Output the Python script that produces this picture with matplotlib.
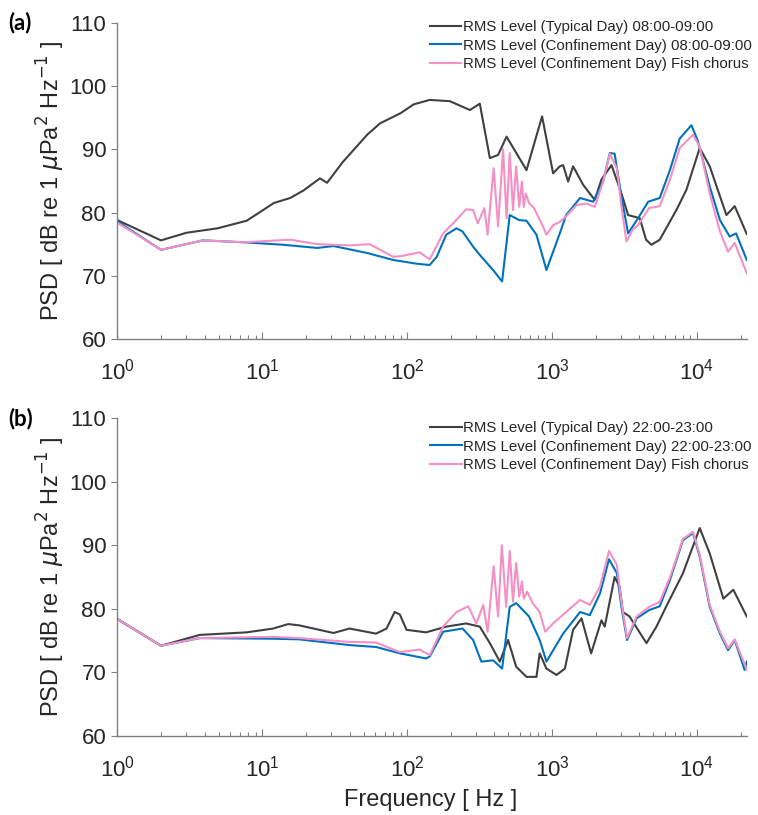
import numpy as np
import matplotlib
matplotlib.use('Agg')
import matplotlib.pyplot as plt
from matplotlib.ticker import LogLocator, NullFormatter

plt.rcParams['font.family'] = ['Liberation Sans', 'DejaVu Sans']
plt.rcParams['mathtext.fontset'] = 'dejavusans'

# ---- panel (a) 08:00-09:00 ----
fa_typ = [1, 2, 3, 4.9, 7.8, 9.7, 12, 15.6, 19.3, 25, 28, 36, 53, 65, 90, 111, 143, 197,
          271, 317, 372, 424, 485, 666, 853, 1016, 1130, 1191, 1290, 1396, 1636, 1820, 1969,
          2190, 2570, 3010, 3345, 4027, 4450, 4849, 5533, 7210, 8450, 10440, 12240, 15950,
          18200, 22050]
psda_typ = [78.8, 75.6, 76.8, 77.5, 78.7, 80.1, 81.5, 82.3, 83.5, 85.4, 84.7, 88.0, 92.3,
            94.1, 95.7, 97.1, 97.8, 97.6, 96.2, 97.2, 88.6, 89.1, 92.0, 86.7, 95.2, 86.2,
            87.3, 87.5, 84.9, 87.3, 84.4, 83.0, 82.0, 85.2, 87.5, 83.0, 79.6, 79.1, 75.7,
            74.9, 75.7, 80.4, 83.6, 90.2, 87.3, 79.6, 81.0, 76.6]

fa_conf = [1, 2, 3.9, 7.4, 14, 24, 31, 53, 80, 117, 143, 160, 186, 219, 241, 285, 317, 392,
           452, 510, 593, 666, 780, 914, 1130, 1250, 1560, 1920, 2250, 2500, 2700, 3010,
           3345, 3920, 4600, 5530, 6500, 7600, 9150, 10100, 12240, 14400, 16800, 18600, 22050]
psda_conf = [78.6, 74.1, 75.6, 75.3, 74.9, 74.4, 74.7, 73.6, 72.5, 71.9, 71.7, 73.0, 76.5,
             77.5, 77.0, 74.6, 73.3, 70.9, 69.1, 79.6, 78.8, 78.7, 76.5, 70.9, 76.7, 79.6,
             82.3, 81.7, 84.9, 89.4, 89.3, 82.5, 76.7, 79.1, 81.7, 82.3, 86.7, 91.7, 93.8,
             91.4, 84.1, 78.8, 76.2, 76.7, 72.5]

fa_fish = [1, 2, 3.9, 7.4, 15.6, 24, 40, 55, 80, 90, 122, 143, 177, 208, 255, 285, 307, 341,
           359, 395, 424, 459, 485, 510, 537, 565, 593, 619, 637, 659, 693, 750, 866, 914,
           1016, 1130, 1250, 1477, 1735, 1969, 2250, 2500, 2800, 3010, 3260, 3600, 3920,
           4670, 5530, 6500, 7600, 9380, 10440, 12240, 14400, 16370, 18200, 22050]
psda_fish = [78.4, 74.1, 75.6, 75.3, 75.7, 75.0, 74.8, 75.0, 73.0, 73.1, 73.7, 72.6, 76.7,
             78.3, 80.5, 80.4, 78.3, 80.7, 76.5, 87.0, 77.8, 90.0, 79.1, 89.4, 80.4, 87.3,
             80.9, 84.9, 80.9, 83.0, 81.5, 80.7, 77.8, 76.5, 78.0, 78.5, 79.4, 81.2, 81.4,
             80.9, 84.9, 89.3, 87.0, 80.9, 75.4, 77.3, 78.0, 80.7, 81.0, 85.2, 90.2, 92.3,
             90.4, 83.0, 77.0, 73.8, 75.2, 70.4]

# ---- panel (b) 22:00-23:00 ----
fb_typ = [1, 2, 3.7, 7.8, 11.9, 15.1, 18, 31, 40, 61, 72, 82, 89, 99, 135, 186, 255, 317,
          372, 436, 497, 565, 666, 780, 821, 914, 1073, 1225, 1396, 1596, 1860, 2190, 2307,
          2700, 2920, 3080, 3420, 4480, 5250, 6110, 8000, 10440, 12240, 15200, 17800, 22050]
psdb_typ = [78.4, 74.2, 75.9, 76.3, 76.9, 77.6, 77.4, 76.2, 76.9, 76.1, 76.9, 79.5, 79.1,
            76.7, 76.3, 77.2, 77.7, 77.2, 74.6, 71.7, 75.1, 70.9, 69.3, 69.3, 73.0, 70.6,
            69.6, 70.6, 76.7, 78.5, 73.0, 78.2, 77.2, 85.0, 83.5, 79.5, 78.8, 74.6, 77.2,
            80.3, 85.6, 92.7, 88.7, 81.6, 83.0, 78.8]

fb_conf = [1, 2, 3.7, 11.9, 18, 40, 61, 89, 135, 143, 177, 241, 285, 325, 392, 452, 510,
           565, 693, 821, 914, 1191, 1560, 1820, 2140, 2470, 2800, 3010, 3290, 3830, 4670,
           5530, 6500, 8000, 9380, 10440, 12240, 14400, 16370, 18200, 21300, 22050]
psdb_conf = [78.4, 74.2, 75.4, 75.3, 75.2, 74.3, 74.0, 73.0, 72.2, 72.5, 76.4, 76.9, 75.1,
             71.7, 71.9, 70.6, 80.3, 80.9, 78.8, 75.1, 71.7, 76.1, 79.5, 79.0, 82.4, 87.8,
             85.6, 80.3, 75.1, 78.5, 79.8, 80.4, 84.5, 90.8, 91.9, 88.2, 80.3, 76.1, 73.5,
             75.1, 70.4, 71.7]

fb_fish = [1, 2, 3.7, 11.9, 18, 40, 61, 89, 122, 143, 177, 219, 264, 300, 335, 359, 395,
           424, 450, 482, 510, 537, 565, 593, 619, 637, 672, 734, 821, 896, 1016, 1250, 1560,
           1820, 2140, 2470, 2800, 3010, 3290, 3830, 4670, 5530, 6500, 8000, 9380, 10440,
           12240, 14400, 16370, 18200, 22050]
psdb_fish = [78.4, 74.2, 75.4, 75.6, 75.4, 74.8, 74.7, 73.2, 73.6, 72.7, 77.2, 79.5, 80.4,
             77.7, 80.6, 76.4, 86.7, 78.8, 90.0, 80.3, 89.1, 81.1, 87.2, 81.9, 84.3, 81.6,
             82.7, 80.9, 79.5, 76.4, 77.7, 79.5, 81.4, 80.6, 83.5, 89.1, 86.9, 81.1, 75.4,
             78.8, 80.3, 81.1, 84.9, 91.0, 92.1, 88.5, 80.6, 76.4, 73.8, 75.2, 70.4]

labels_a = ['RMS Level (Typical Day) 08:00-09:00',
            'RMS Level (Confinement Day) 08:00-09:00',
            'RMS Level (Confinement Day) Fish chorus']
labels_b = ['RMS Level (Typical Day) 22:00-23:00',
            'RMS Level (Confinement Day) 22:00-23:00',
            'RMS Level (Confinement Day) Fish chorus']

c_typ = '#404040'
c_conf = '#0072BD'
c_fish = '#F590C5'
axcol = '#808080'
txtcol = '#262626'

fig = plt.figure(figsize=(7.58, 8.15), dpi=100)
ax_a = fig.add_axes([0.1548, 0.5840, 0.8304, 0.3881])
ax_b = fig.add_axes([0.1548, 0.0969, 0.8304, 0.3902])

panels = [
    (ax_a, [(fa_typ, psda_typ), (fa_conf, psda_conf), (fa_fish, psda_fish)], labels_a, '(a)', 1.008),
    (ax_b, [(fb_typ, psdb_typ), (fb_conf, psdb_conf), (fb_fish, psdb_fish)], labels_b, '(b)', 0.99),
]

for ax, series, labs, tag, legtop in panels:
    for (f, p), col, lab in zip(series, [c_typ, c_conf, c_fish], labs):
        ax.plot(f, p, color=col, lw=1.5, label=lab)
    ax.set_xscale('log')
    ax.set_xlim(1, 22050)
    ax.set_ylim(60, 110)
    ax.set_yticks([60, 70, 80, 90, 100, 110])
    ax.xaxis.set_major_locator(LogLocator(base=10, numticks=10))
    ax.xaxis.set_minor_locator(LogLocator(base=10, subs=np.arange(2, 10), numticks=50))
    ax.xaxis.set_minor_formatter(NullFormatter())
    for s in ['top', 'right']:
        ax.spines[s].set_visible(False)
    for s in ['left', 'bottom']:
        ax.spines[s].set_color(axcol)
        ax.spines[s].set_linewidth(1.0)
    ax.tick_params(axis='x', which='major', direction='in', length=5, width=0.8,
                   color=axcol, labelcolor=txtcol, labelsize=16, pad=14)
    ax.tick_params(axis='x', which='minor', direction='in', length=3, width=0.8, color=axcol)
    ax.tick_params(axis='y', which='major', direction='out', length=4, width=0.8,
                   color=axcol, labelcolor=txtcol, labelsize=16, pad=4)
    ax.set_ylabel(r'PSD [ dB re 1 $\mu$Pa$^2$ Hz$^{-1}$ ]', fontsize=17, color=txtcol)
    ax.yaxis.set_label_coords(-0.080, 0.5)
    leg = ax.legend(loc='upper right', bbox_to_anchor=(1.008, legtop), frameon=False,
                    fontsize=10.8, handlelength=2.1, handletextpad=0.1, labelspacing=0.3,
                    borderpad=0, borderaxespad=0)
    for t in leg.get_texts():
        t.set_color(txtcol)
    ax.text(-0.174, 1.0, tag, transform=ax.transAxes, fontsize=16, fontweight='bold',
            color='black', ha='left', va='center', family='Lato')

ax_b.set_xlabel('Frequency [ Hz ]', fontsize=17, color=txtcol)
ax_b.xaxis.set_label_coords(0.497, -0.168)

fig.savefig('out.png', dpi=100, facecolor='white')
